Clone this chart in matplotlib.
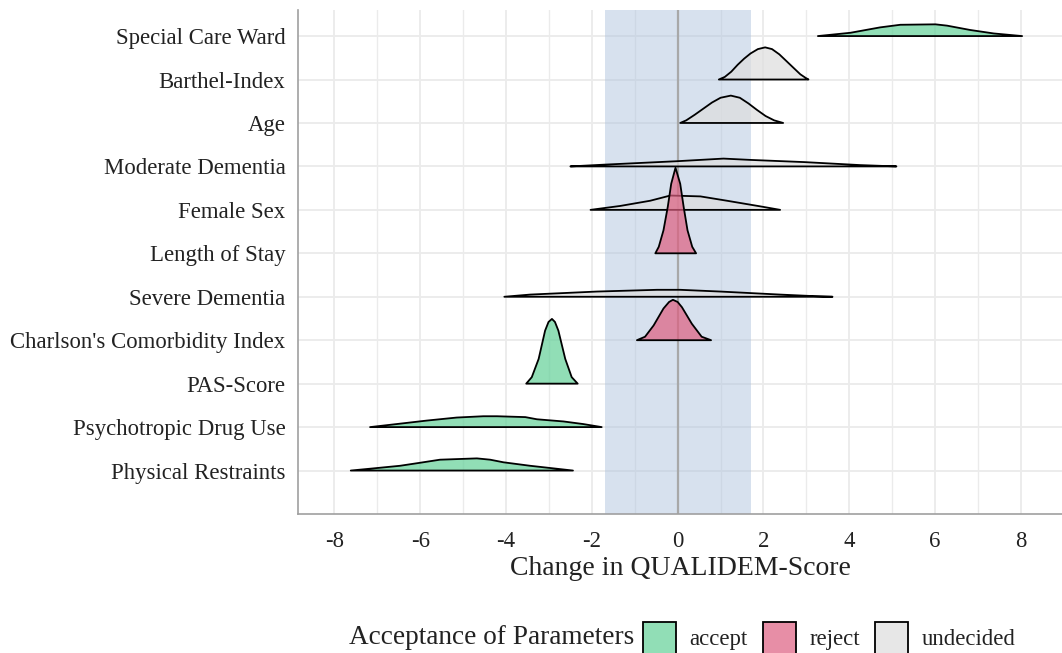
import numpy as np
import matplotlib
matplotlib.use("Agg")
import matplotlib.pyplot as plt
from matplotlib.patches import Patch

plt.rcParams['font.family'] = ['Liberation Serif', 'DejaVu Serif']

# parameters, top to bottom
categories = ['Special Care Ward', 'Barthel-Index', 'Age', 'Moderate Dementia',
              'Female Sex', 'Length of Stay', 'Severe Dementia',
              "Charlson's Comorbidity Index", 'PAS-Score',
              'Psychotropic Drug Use', 'Physical Restraints']
acceptance = ['accept', 'undecided', 'undecided', 'undecided', 'undecided',
              'reject', 'undecided', 'reject', 'accept', 'accept', 'accept']

# density outlines: x values and ridge heights (in rows)
ridge_x = [
    [3.27, 4.03, 4.72, 5.19, 6.01, 6.28, 6.82, 7.37, 8.03],
    [0.96, 1.10, 1.25, 1.40, 1.55, 1.70, 1.87, 2.04, 2.20, 2.37, 2.53, 2.70, 2.86, 2.98, 3.05],
    [0.06, 0.20, 0.40, 0.60, 0.80, 1.00, 1.24, 1.45, 1.65, 1.85, 2.05, 2.25, 2.46],
    [-2.50, -1.72, -0.01, 1.07, 1.69, 2.94, 4.26, 5.10],
    [-2.03, -1.34, -0.64, -0.17, 0.53, 1.15, 1.93, 2.39],
    [-0.52, -0.44, -0.33, -0.23, -0.15, -0.05, 0.06, 0.14, 0.23, 0.34, 0.43],
    [-4.04, -3.44, -1.88, -0.48, 0.06, 0.99, 2.39, 3.17, 3.61],
    [-0.95, -0.76, -0.56, -0.33, -0.20, -0.11, 0.00, 0.10, 0.33, 0.56, 0.78],
    [-3.53, -3.40, -3.24, -3.09, -3.01, -2.93, -2.86, -2.78, -2.62, -2.47, -2.33],
    [-7.17, -6.55, -5.85, -5.15, -4.53, -4.21, -3.55, -3.28, -2.66, -2.20, -1.77],
    [-7.62, -7.09, -6.47, -6.00, -5.54, -4.68, -4.37, -4.06, -3.44, -2.44],
]
ridge_h = [
    [0, 0.076, 0.20, 0.26, 0.27, 0.24, 0.14, 0.06, 0],
    [0, 0.06, 0.18, 0.34, 0.48, 0.60, 0.70, 0.74, 0.70, 0.58, 0.43, 0.27, 0.12, 0.04, 0],
    [0, 0.06, 0.19, 0.33, 0.47, 0.58, 0.63, 0.58, 0.45, 0.30, 0.16, 0.06, 0],
    [0, 0.04, 0.12, 0.18, 0.15, 0.10, 0.03, 0],
    [0, 0.09, 0.21, 0.33, 0.31, 0.21, 0.08, 0],
    [0, 0.15, 0.53, 1.07, 1.60, 1.97, 1.60, 1.07, 0.53, 0.15, 0],
    [0, 0.05, 0.12, 0.16, 0.16, 0.12, 0.05, 0.015, 0],
    [0, 0.08, 0.34, 0.73, 0.88, 0.93, 0.88, 0.76, 0.38, 0.08, 0],
    [0, 0.15, 0.57, 1.22, 1.42, 1.49, 1.42, 1.22, 0.57, 0.15, 0],
    [0, 0.07, 0.15, 0.22, 0.25, 0.25, 0.23, 0.18, 0.13, 0.07, 0],
    [0, 0.05, 0.11, 0.18, 0.25, 0.28, 0.25, 0.19, 0.11, 0],
]

rope = (-1.7, 1.7)
xticks = [-8, -6, -4, -2, 0, 2, 4, 6, 8]

fills = {'accept': (98/255, 208/255, 152/255, 0.7),
         'reject': (222/255, 95/255, 128/255, 0.7),
         'undecided': (222/255, 222/255, 222/255, 0.7)}
txt = '#222222'

fig = plt.figure(figsize=(10.62, 6.53), dpi=100)
ax = fig.add_axes([298/1062, 1 - 514/653, 1 - 298/1062, (514 - 10)/653])

n = len(categories)
ypos = np.arange(n, 0, -1)

ax.axvspan(rope[0], rope[1], color='#B0C4DE', alpha=0.5, lw=0, zorder=1)
ax.axvline(0, color='#A8A8A8', lw=1.6, zorder=2)

for i, (cat, acc) in enumerate(zip(categories, acceptance)):
    xs = np.array(ridge_x[i])
    hs = np.array(ridge_h[i])
    ax.fill(xs, ypos[i] + hs, facecolor=fills[acc], edgecolor='black',
            lw=1.3, joinstyle='round', zorder=3 + i)

ax.set_xlim(-8.85, 8.96)
ax.set_ylim(0, 11.6)
ax.set_yticks(ypos)
ax.set_yticklabels(categories)
ax.set_xticks(xticks)
ax.set_xticklabels([str(t) for t in xticks])
ax.set_xticks(np.arange(-7, 9, 2), minor=True)
ax.tick_params(axis='both', which='both', length=0, labelsize=16.4, labelcolor=txt)
ax.tick_params(axis='y', pad=9)
ax.tick_params(axis='x', pad=12)
ax.grid(True, which='major', color='#EBEBEB', lw=1.3, zorder=0)
ax.grid(True, which='minor', axis='x', color='#EBEBEB', lw=1.0, zorder=0)
ax.set_axisbelow(True)
for s in ['top', 'right']:
    ax.spines[s].set_visible(False)
for s in ['left', 'bottom']:
    ax.spines[s].set_color('#A0A0A0')
    ax.spines[s].set_linewidth(1.2)

ax.set_xlabel('Change in QUALIDEM-Score', fontsize=20, color=txt, labelpad=3)

handles = [Patch(facecolor=fills[k], edgecolor='black', lw=1.3, label=k)
           for k in ['accept', 'reject', 'undecided']]
fig.text(634/1062, 1 - 637/653, 'Acceptance of Parameters', fontsize=19.6,
         color=txt, ha='right', va='center')
fig.legend(handles=handles, loc='center left', bbox_to_anchor=(643/1062, 1 - 638/653),
           ncol=3, frameon=False, fontsize=16.4, handlelength=1.45, handleheight=1.85,
           handletextpad=0.6, columnspacing=0.66, borderpad=0, borderaxespad=0,
           labelcolor=txt)

fig.savefig('out.png', dpi=100)
